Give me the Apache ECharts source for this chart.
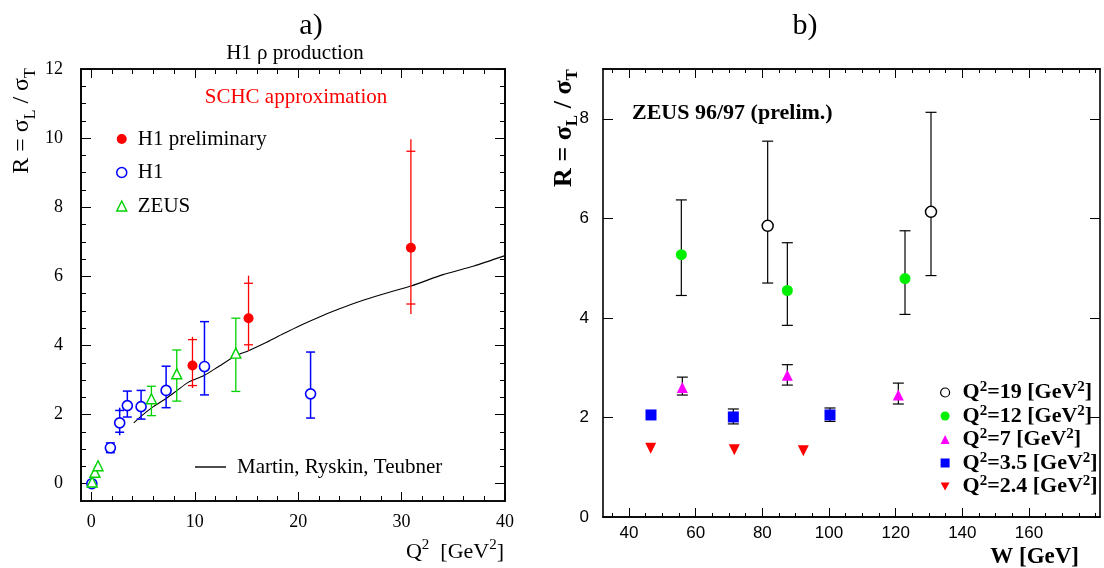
<!DOCTYPE html>
<html>
<head>
<meta charset="utf-8">
<script src="https://cdn.jsdelivr.net/npm/echarts@6/dist/echarts.min.js"></script>
<style>
  html, body { margin: 0; padding: 0; background: #fff; }
  #chart { width: 1104px; height: 568px; }
</style>
</head>
<body>
<div id="chart"></div>
<script>
// ---------- Panel a): R vs Q^2 ----------
const h1PrelimQ2 = [9.78, 15.2, 30.9];
const h1PrelimR = [3.42, 4.79, 6.83];
const h1PrelimHi = [4.25, 6.02, 9.97];
const h1PrelimCapHi = [4.17, 5.80, 9.62];
const h1PrelimCapLo = [2.84, 4.02, 5.20];
const h1PrelimLo = [2.77, 3.84, 4.91];

const h1Q2 = [0.05, 1.84, 2.74, 3.48, 4.81, 7.23, 10.94, 21.2];
const h1R = [0.0, 1.04, 1.76, 2.26, 2.23, 2.70, 3.39, 2.60];
const h1Hi = [0.07, 1.18, 2.20, 2.68, 2.70, 3.40, 4.69, 3.81];
const h1CapHi = [0.07, 1.18, 2.12, 2.68, 2.70, 3.40, 4.69, 3.81];
const h1CapLo = [-0.07, 0.90, 1.49, 1.93, 1.87, 2.20, 2.57, 1.90];
const h1Lo = [-0.07, 0.90, 1.40, 1.93, 1.87, 2.20, 2.57, 1.90];

const zeusQ2 = [0.08, 0.35, 0.65, 5.81, 8.26, 13.97];
const zeusR = [0.05, 0.33, 0.52, 2.46, 3.18, 3.78];
const zeusHi = [0.05, 0.33, 0.52, 2.82, 3.87, 4.79];
const zeusLo = [0.05, 0.33, 0.52, 1.97, 2.39, 2.67];

const mrtQ2 = [4.1, 5.0, 6.0, 7.3, 8.3, 9.4, 10.9, 12.2, 14.0, 15.2, 17.0, 18.5, 20.2, 22.0, 24.0, 26.0, 28.0, 31.0, 34.0, 37.0, 40.0];
const mrtR = [1.76, 2.00, 2.23, 2.48, 2.70, 2.94, 3.13, 3.37, 3.71, 3.85, 4.10, 4.33, 4.58, 4.82, 5.06, 5.28, 5.47, 5.73, 6.05, 6.30, 6.60];

const aXMajor = [0, 10, 20, 30, 40];
const aXMinor = [0, 2, 4, 6, 8, 12, 14, 16, 18, 22, 24, 26, 28, 32, 34, 36, 38];
const aYMajor = [0, 2, 4, 6, 8, 10, 12];
const aYMinor = [0.5, 1, 1.5, 2.5, 3, 3.5, 4.5, 5, 5.5, 6.5, 7, 7.5, 8.5, 9, 9.5, 10.5, 11, 11.5];

// ---------- Panel b): R vs W ----------
const q19W = [81.6, 130.6];
const q19R = [5.85, 6.13];
const q19Hi = [7.55, 8.13];
const q19Lo = [4.70, 4.85];

const q12W = [55.7, 87.5, 122.8];
const q12R = [5.27, 4.55, 4.79];
const q12Hi = [6.37, 5.51, 5.75];
const q12Lo = [4.45, 3.85, 4.07];

const q7W = [56.0, 87.5, 120.8];
const q7R = [2.60, 2.85, 2.45];
const q7Hi = [2.81, 3.06, 2.69];
const q7Lo = [2.45, 2.65, 2.27];

const q35W = [46.6, 71.3, 100.3];
const q35R = [2.05, 2.01, 2.05];
const q35Hi = [2.05, 2.17, 2.19];
const q35Lo = [2.05, 1.87, 1.92];

const q24W = [46.5, 71.6, 92.3];
const q24R = [1.38, 1.35, 1.33];

const bXMajor = [40, 60, 80, 100, 120, 140, 160];
const bXMinor = [35, 45, 50, 55, 65, 70, 75, 85, 90, 95, 105, 110, 115, 125, 130, 135, 145, 150, 155, 165, 170, 175, 180];
const bYMajor = [0, 2, 4, 6, 8];

const SERIF = '"Liberation Serif", "Times New Roman", serif';
const SANS = '"Liberation Sans", Arial, sans-serif';

function axis(gridIndex, position, min, max, ticks, len, labelOpts) {
  return {
    type: 'value', gridIndex, position, min, max,
    axisLine: { show: true, onZero: false, lineStyle: { color: '#000', width: 1.6 } },
    axisTick: { show: true, inside: true, length: len, customValues: ticks, lineStyle: { color: '#000', width: 1 } },
    axisLabel: labelOpts ? Object.assign({ show: true, customValues: ticks, color: '#000' }, labelOpts) : { show: false },
    splitLine: { show: false },
    axisPointer: { show: false }
  };
}

const aLabel = { fontFamily: SERIF, fontSize: 18 };
const bLabel = { fontFamily: SANS, fontSize: 17 };

const xAxes = [
  axis(0, 'bottom', -1, 40, aXMajor, 9, Object.assign({ margin: 12 }, aLabel)),   // 0
  axis(0, 'bottom', -1, 40, aXMinor, 5, null),                                    // 1
  axis(0, 'top', -1, 40, aXMajor, 9, null),                                       // 2
  axis(0, 'top', -1, 40, aXMinor, 5, null),                                       // 3
  axis(1, 'bottom', 32.2, 181.3, bXMajor, 9, Object.assign({ margin: 8 }, bLabel)), // 4
  axis(1, 'bottom', 32.2, 181.3, bXMinor, 4, null),                               // 5
  axis(1, 'top', 32.2, 181.3, bXMajor, 9, null),                                  // 6
  axis(1, 'top', 32.2, 181.3, bXMinor, 4, null)                                   // 7
];
const yAxes = [
  axis(0, 'left', -0.5, 12, aYMajor, 10, Object.assign({ margin: 18 }, aLabel)),  // 0
  axis(0, 'left', -0.5, 12, aYMinor, 5, null),                                    // 1
  axis(0, 'right', -0.5, 12, aYMajor, 10, null),                                  // 2
  axis(0, 'right', -0.5, 12, aYMinor, 5, null),                                   // 3
  axis(1, 'left', 0, 9, bYMajor, 10, Object.assign({ margin: 14 }, bLabel)),      // 4
  axis(1, 'right', 0, 9, bYMajor, 10, null)                                       // 5
];

// vertical error bar with caps; data rows = [x, lo, hi, capLo, capHi]
function errorBars(xs, lo, hi, capLo, capHi, color, capHalf, xi, yi, width) {
  const data = xs.map((x, i) => [x, lo[i], hi[i], capLo[i], capHi[i]]);
  return {
    type: 'custom', xAxisIndex: xi, yAxisIndex: yi, silent: true, z: 2,
    data,
    encode: { x: 0, y: [1, 2] },
    renderItem: function (params, api) {
      const x = api.value(0);
      const pLo = api.coord([x, api.value(1)]);
      const pHi = api.coord([x, api.value(2)]);
      if (Math.abs(pLo[1] - pHi[1]) < 1) return { type: 'group', children: [] };
      const cLo = api.coord([x, api.value(3)]);
      const cHi = api.coord([x, api.value(4)]);
      const st = { stroke: color, lineWidth: width };
      return {
        type: 'group',
        children: [
          { type: 'line', shape: { x1: pLo[0], y1: pLo[1], x2: pHi[0], y2: pHi[1] }, style: st },
          { type: 'line', shape: { x1: cLo[0] - capHalf, y1: cLo[1], x2: cLo[0] + capHalf, y2: cLo[1] }, style: st },
          { type: 'line', shape: { x1: cHi[0] - capHalf, y1: cHi[1], x2: cHi[0] + capHalf, y2: cHi[1] }, style: st }
        ]
      };
    }
  };
}

function pts(xs, ys) { return xs.map((x, i) => [x, ys[i]]); }

const RED = '#ff0000', BLUE = '#0000ff', GREEN_A = '#00d200', GREEN_B = '#00ee00', MAG = '#ff00ff';

function scatter(name, xi, yi, xs, ys, symbol, size, style, extra) {
  return Object.assign({
    name, type: 'scatter', xAxisIndex: xi, yAxisIndex: yi, z: 5,
    data: pts(xs, ys), symbol, symbolSize: size,
    itemStyle: Object.assign({ opacity: 1 }, style),
    emphasis: { disabled: true }
  }, extra || {});
}

const series = [
  // panel a
  errorBars(h1PrelimQ2, h1PrelimLo, h1PrelimHi, h1PrelimCapLo, h1PrelimCapHi, RED, 4.5, 0, 0, 1.3),
  errorBars(h1Q2, h1Lo, h1Hi, h1CapLo, h1CapHi, BLUE, 4.5, 0, 0, 1.5),
  errorBars(zeusQ2, zeusLo, zeusHi, zeusLo, zeusHi, GREEN_A, 4.5, 0, 0, 1.3),
  {
    name: 'Martin, Ryskin, Teubner', type: 'line', xAxisIndex: 0, yAxisIndex: 0,
    data: pts(mrtQ2, mrtR), smooth: 0.2, showSymbol: false, symbol: 'none', z: 1,
    lineStyle: { color: '#000', width: 1.1 }, itemStyle: { color: '#000' }
  },
  scatter('H1 preliminary', 0, 0, h1PrelimQ2, h1PrelimR, 'circle', 10, { color: RED }),
  scatter('H1', 0, 0, h1Q2, h1R, 'circle', 10, { color: '#fff', borderColor: BLUE, borderWidth: 1.6 }),
  scatter('ZEUS', 0, 0, zeusQ2, zeusR, 'triangle', 10, { color: '#fff', borderColor: GREEN_A, borderWidth: 1.4 }),
  // panel b
  errorBars(q19W, q19Lo, q19Hi, q19Lo, q19Hi, '#000', 5.5, 4, 4, 1.2),
  errorBars(q12W, q12Lo, q12Hi, q12Lo, q12Hi, '#000', 5.5, 4, 4, 1.2),
  errorBars(q7W, q7Lo, q7Hi, q7Lo, q7Hi, '#000', 5.5, 4, 4, 1.2),
  errorBars(q35W, q35Lo, q35Hi, q35Lo, q35Hi, '#000', 5.5, 4, 4, 1.2),
  scatter('Q²=19 [GeV²]', 4, 4, q19W, q19R, 'circle', 11, { color: '#fff', borderColor: '#000', borderWidth: 1.5 }),
  scatter('Q²=12 [GeV²]', 4, 4, q12W, q12R, 'circle', 11, { color: GREEN_B }),
  scatter('Q²=7 [GeV²]', 4, 4, q7W, q7R, 'triangle', 11, { color: MAG }),
  scatter('Q²=3.5 [GeV²]', 4, 4, q35W, q35R, 'rect', 11, { color: BLUE }),
  scatter('Q²=2.4 [GeV²]', 4, 4, q24W, q24R, 'triangle', 11, { color: RED }, { symbolRotate: 180 })
];

const DOWN_TRI = 'path://M0,0 L10,0 L5,9 Z';

function supRich(name) {
  return name.split('²').map(p => '{b|' + p + '}').join('{s|2}');
}

const option = {
  animation: false,
  backgroundColor: '#fff',
  grid: [
    { left: 81, top: 69, width: 424, height: 432 },
    { left: 603, top: 69, width: 497, height: 448 }
  ],
  xAxis: xAxes,
  yAxis: yAxes,
  legend: [
    {
      orient: 'vertical', left: 116, top: 128, padding: 0, itemWidth: 10, itemHeight: 10, itemGap: 11.5,
      selectedMode: false,
      textStyle: { fontFamily: SERIF, fontSize: 21, color: '#000', lineHeight: 22, padding: [0, 0, 0, 6] },
      data: [
        { name: 'H1 preliminary', icon: 'circle', itemStyle: { color: RED } },
        { name: 'H1', icon: 'circle', itemStyle: { color: '#fff', borderColor: BLUE, borderWidth: 1.5 } },
        { name: 'ZEUS', icon: 'triangle', itemStyle: { color: '#fff', borderColor: GREEN_A, borderWidth: 1.4 } }
      ]
    },
    {
      orient: 'vertical', left: 195, top: 456, padding: 0, itemWidth: 31, itemHeight: 1.4,
      selectedMode: false,
      textStyle: { fontFamily: SERIF, fontSize: 21, color: '#000', lineHeight: 22, padding: [0, 0, 0, 6] },
      data: [{ name: 'Martin, Ryskin, Teubner', icon: 'rect', itemStyle: { color: '#000' } }]
    },
    {
      orient: 'vertical', left: 940, top: 380, padding: 0, itemWidth: 9, itemHeight: 9, itemGap: 0,
      selectedMode: false,
      formatter: supRich,
      textStyle: {
        color: '#000', padding: [0, 0, 0, 8],
        rich: {
          b: { fontFamily: SERIF, fontWeight: 'bold', fontSize: 22, lineHeight: 25, color: '#000' },
          s: { fontFamily: SERIF, fontWeight: 'bold', fontSize: 15, lineHeight: 15, verticalAlign: 'top', color: '#000' }
        }
      },
      data: [
        { name: 'Q²=19 [GeV²]', icon: 'circle', itemStyle: { color: '#fff', borderColor: '#000', borderWidth: 1.2 } },
        { name: 'Q²=12 [GeV²]', icon: 'circle', itemStyle: { color: GREEN_B } },
        { name: 'Q²=7 [GeV²]', icon: 'triangle', itemStyle: { color: MAG } },
        { name: 'Q²=3.5 [GeV²]', icon: 'rect', itemStyle: { color: BLUE } },
        { name: 'Q²=2.4 [GeV²]', icon: DOWN_TRI, itemStyle: { color: RED } }
      ]
    }
  ],
  graphic: [
    { type: 'text', x: 311, y: 26, style: { text: 'a)', font: '30px ' + SERIF, fill: '#000', textAlign: 'center', textVerticalAlign: 'middle' } },
    { type: 'text', x: 295, y: 53, style: { text: 'H1 ρ production', font: '21px ' + SERIF, fill: '#000', textAlign: 'center', textVerticalAlign: 'middle' } },
    { type: 'text', x: 296, y: 97, style: { text: 'SCHC approximation', font: '21px ' + SERIF, fill: RED, textAlign: 'center', textVerticalAlign: 'middle' } },
    {
      type: 'text', x: 22, y: 121, rotation: Math.PI / 2,
      style: {
        text: '{a|R = σ}{s|L}{a| / σ}{s|T}', textAlign: 'center', textVerticalAlign: 'middle',
        rich: {
          a: { fontFamily: SERIF, fontSize: 24, lineHeight: 34, color: '#000' },
          s: { fontFamily: SERIF, fontSize: 16, lineHeight: 16, verticalAlign: 'bottom', color: '#000' }
        }
      }
    },
    {
      type: 'text', x: 504, y: 552,
      style: {
        text: '{a|Q}{s|2}{a|  [GeV}{s|2}{a|]}', textAlign: 'right', textVerticalAlign: 'middle',
        rich: {
          a: { fontFamily: SERIF, fontSize: 22, lineHeight: 28, color: '#000' },
          s: { fontFamily: SERIF, fontSize: 15, lineHeight: 15, verticalAlign: 'top', color: '#000' }
        }
      }
    },
    { type: 'text', x: 805, y: 26, style: { text: 'b)', font: '30px ' + SERIF, fill: '#000', textAlign: 'center', textVerticalAlign: 'middle' } },
    { type: 'text', x: 632, y: 113, style: { text: 'ZEUS 96/97 (prelim.)', font: 'bold 22px ' + SERIF, fill: '#000', textAlign: 'left', textVerticalAlign: 'middle' } },
    {
      type: 'text', x: 564, y: 128, rotation: Math.PI / 2,
      style: {
        text: '{a|R = σ}{s|L}{a| / σ}{s|T}', textAlign: 'center', textVerticalAlign: 'middle',
        rich: {
          a: { fontFamily: SERIF, fontWeight: 'bold', fontSize: 26, lineHeight: 34, color: '#000' },
          s: { fontFamily: SERIF, fontWeight: 'bold', fontSize: 17, lineHeight: 17, verticalAlign: 'bottom', color: '#000' }
        }
      }
    },
    { type: 'text', x: 1079, y: 557, style: { text: 'W [GeV]', font: 'bold 23px ' + SERIF, fill: '#000', textAlign: 'right', textVerticalAlign: 'middle' } }
  ],
  series
};

const chart = echarts.init(document.getElementById('chart'), null, { renderer: 'canvas' });
chart.setOption(option);
</script>
</body>
</html>
